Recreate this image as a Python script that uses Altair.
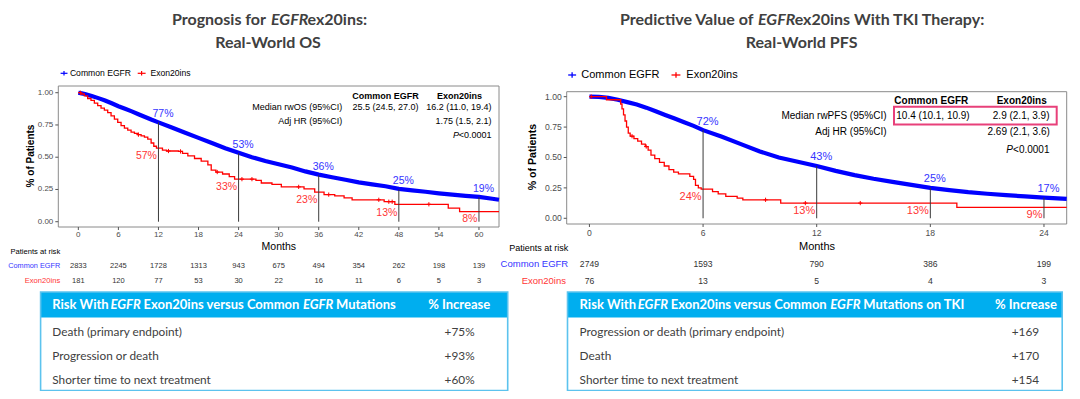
import altair as alt
import pandas as pd

# ---------------- data ----------------
# Left panel: real-world OS
os_blue_t = [0, 0.5, 1, 2, 3, 4, 5, 6, 7, 8, 9, 10, 11, 12, 14, 16, 18, 20, 22, 24, 26, 28, 30, 32, 34, 36, 38, 40, 42, 44, 46, 48, 50, 52, 54, 56, 58, 60, 62, 63]
os_blue_s = [1.0, 0.995, 0.99, 0.975, 0.958, 0.94, 0.918, 0.895, 0.875, 0.855, 0.833, 0.812, 0.79, 0.77, 0.73, 0.69, 0.65, 0.61, 0.57, 0.535, 0.50, 0.47, 0.445, 0.42, 0.39, 0.365, 0.345, 0.325, 0.305, 0.29, 0.275, 0.255, 0.243, 0.232, 0.22, 0.21, 0.20, 0.192, 0.178, 0.17]
os_red_t = [0, 0.4, 0.9, 1.4, 1.9, 2.4, 2.9, 3.4, 3.9, 4.4, 4.9, 5.4, 5.9, 6.4, 6.9, 7.4, 7.9, 8.4, 8.9, 9.4, 9.9, 10.4, 10.9, 11.3, 11.7, 12.6, 13.2, 15.0, 15.6, 16.4, 17.4, 18.4, 19.4, 19.9, 20.6, 21.6, 22.6, 23.4, 26.6, 27.4, 29.0, 30.4, 33.8, 35.4, 36.8, 38.4, 39.8, 41.0, 45.8, 47.4, 55.4, 57.1, 63]
os_red_s = [1.0, 0.99, 0.975, 0.955, 0.94, 0.92, 0.90, 0.88, 0.865, 0.845, 0.82, 0.795, 0.77, 0.745, 0.725, 0.71, 0.695, 0.685, 0.675, 0.665, 0.655, 0.64, 0.61, 0.585, 0.57, 0.555, 0.548, 0.545, 0.53, 0.51, 0.49, 0.47, 0.44, 0.40, 0.385, 0.37, 0.35, 0.33, 0.32, 0.30, 0.29, 0.27, 0.255, 0.23, 0.21, 0.20, 0.185, 0.17, 0.155, 0.135, 0.105, 0.078, 0.078]
os_cens_t = [0.3, 9.0, 13.5, 15.3, 20.8, 24.5, 26.0, 33.0, 37.5, 45.0, 46.5, 47.0, 52.5]
os_cens_s = [1.0, 0.675, 0.548, 0.545, 0.385, 0.33, 0.33, 0.27, 0.21, 0.17, 0.155, 0.155, 0.135]
os_mark_t = [12, 24, 36, 48, 60]
os_mark_blue = [0.77, 0.53, 0.36, 0.25, 0.19]
os_mark_red = [0.57, 0.33, 0.23, 0.13, 0.08]
os_lab_blue = ["77%", "53%", "36%", "25%", "19%"]
os_lab_red = ["57%", "33%", "23%", "13%", "8%"]
os_ticks_t = [0, 6, 12, 18, 24, 30, 36, 42, 48, 54, 60]
os_risk_common = [2833, 2245, 1728, 1313, 943, 675, 494, 354, 262, 198, 139]
os_risk_exon = [181, 120, 77, 53, 30, 22, 16, 11, 6, 5, 3]

# Right panel: real-world PFS on TKI
pfs_blue_t = [0, 0.5, 1, 1.5, 2, 2.5, 3, 3.5, 4, 4.5, 5, 5.5, 6, 7, 8, 9, 10, 11, 12, 13, 14, 15, 16, 17, 18, 19, 20, 21, 22, 23, 24, 25.2]
pfs_blue_s = [1.0, 0.998, 0.99, 0.975, 0.955, 0.935, 0.91, 0.88, 0.85, 0.82, 0.79, 0.76, 0.725, 0.67, 0.61, 0.55, 0.50, 0.465, 0.43, 0.39, 0.355, 0.325, 0.30, 0.275, 0.25, 0.232, 0.215, 0.202, 0.19, 0.18, 0.17, 0.16]
pfs_red_t = [0, 0.9, 1.65, 1.72, 1.8, 1.88, 1.96, 2.05, 2.15, 2.35, 2.55, 2.75, 2.95, 3.1, 3.25, 3.45, 3.7, 3.95, 4.2, 4.45, 4.7, 5.3, 5.5, 5.6, 5.75, 5.9, 6.5, 6.8, 7.2, 7.8, 8.1, 10.1, 19.4, 25.2]
pfs_red_s = [1.0, 0.975, 0.94, 0.90, 0.85, 0.80, 0.75, 0.70, 0.675, 0.655, 0.635, 0.61, 0.59, 0.56, 0.52, 0.49, 0.46, 0.43, 0.40, 0.38, 0.365, 0.345, 0.32, 0.27, 0.25, 0.24, 0.22, 0.20, 0.18, 0.165, 0.152, 0.125, 0.09, 0.09]
pfs_cens_t = [0.1, 2.25, 3.0, 9.3, 11.4, 14.3]
pfs_cens_s = [1.0, 0.675, 0.59, 0.152, 0.125, 0.125]
pfs_mark_t = [6, 12, 18, 24]
pfs_mark_blue = [0.725, 0.43, 0.25, 0.17]
pfs_mark_red = [0.24, 0.125, 0.125, 0.09]
pfs_lab_blue = ["72%", "43%", "25%", "17%"]
pfs_lab_red = ["24%", "13%", "13%", "9%"]
pfs_ticks_t = [0, 6, 12, 18, 24]
pfs_risk_common = [2749, 1593, 790, 386, 199]
pfs_risk_exon = [76, 13, 5, 4, 3]

y_ticks = [0.0, 0.25, 0.5, 0.75, 1.0]
y_tick_labels = ["0.00", "0.25", "0.50", "0.75", "1.00"]

os_table_rows = ["Death (primary endpoint)", "Progression or death", "Shorter time to next treatment"]
os_table_vals = ["+75%", "+93%", "+60%"]
pfs_table_rows = ["Progression or death (primary endpoint)", "Death", "Shorter time to next treatment"]
pfs_table_vals = ["+169", "+170", "+154"]

# ---------------- helpers ----------------
W, H = 1064, 383
OX, OY = 8, 8
def X(v): return v - OX
def Y(v): return v - OY

BLUE = "#0000ff"
RED = "#ff0000"
BLUE_T = "#3535ff"
RED_T = "#ff3535"
GREY = "#404040"
ARIAL = "Liberation Sans"
GOTH = "Lato"
ONE = pd.DataFrame({"k": [0]})


def txt(s, x, y, size=10, color="#000000", weight="normal", align="left",
        font=ARIAL, style="normal", angle=0, baseline="middle"):
    return alt.Chart(ONE).mark_text(
        text=s, fontSize=size, color=color, fontWeight=weight, align=align,
        font=font, fontStyle=style, angle=angle, baseline=baseline
    ).encode(x=alt.value(X(x)), y=alt.value(Y(y)))


def hline(x1, x2, y, color, width=1.0):
    return alt.Chart(ONE).mark_rule(color=color, strokeWidth=width).encode(
        x=alt.value(X(x1)), x2=alt.value(X(x2)), y=alt.value(Y(y)))


def vline(x, y1, y2, color, width=1.0):
    return alt.Chart(ONE).mark_rule(color=color, strokeWidth=width).encode(
        x=alt.value(X(x)), y=alt.value(Y(y1)), y2=alt.value(Y(y2)))


def box(x1, y1, x2, y2, fill=None, stroke=None, sw=1.0):
    kw = {}
    if fill is not None:
        kw["fill"] = fill
    else:
        kw["fillOpacity"] = 0
    if stroke is not None:
        kw["stroke"] = stroke
        kw["strokeWidth"] = sw
    return alt.Chart(ONE).mark_rect(**kw).encode(
        x=alt.value(X(x1)), x2=alt.value(X(x2)), y=alt.value(Y(y1)), y2=alt.value(Y(y2)))


def km_panel(p):
    xs = alt.Scale(domain=p["xdom"], range=[X(p["xpix"][0]), X(p["xpix"][1])], nice=False, zero=False)
    ys = alt.Scale(domain=p["ydom"], range=[Y(p["ypix"][0]), Y(p["ypix"][1])], nice=False, zero=False)

    def XE(f):
        return alt.X(f, type="quantitative", scale=xs, axis=None)

    def YE(f):
        return alt.Y(f, type="quantitative", scale=ys, axis=None)

    frame_df = pd.DataFrame({"x1": [p["xdom"][0]], "x2": [p["xdom"][1]],
                             "y1": [p["ydom"][0]], "y2": [p["ydom"][1]]})
    frame = alt.Chart(frame_df).mark_rect(fillOpacity=0, stroke="#8a8a8a", strokeWidth=1).encode(
        x=XE("x1"), x2="x2", y=YE("y1"), y2="y2")

    yt_df = pd.DataFrame({"y": y_ticks, "lab": y_tick_labels, "x": [p["xdom"][0]] * len(y_ticks)})
    ytick = alt.Chart(yt_df).mark_rule(color="#555555", x2Offset=-3).encode(
        x=XE("x"), x2="x", y=YE("y"))
    ylab = alt.Chart(yt_df).mark_text(align="right", baseline="middle", dx=-5, fontSize=p["tick_fs"],
                                       font=ARIAL, color="#4d4d4d").encode(x=XE("x"), y=YE("y"), text="lab:N")

    xt_df = pd.DataFrame({"t": p["ticks"], "y": [p["ydom"][0]] * len(p["ticks"]),
                          "lab": [str(v) for v in p["ticks"]]})
    xtick = alt.Chart(xt_df).mark_rule(color="#555555", y2Offset=3).encode(
        x=XE("t"), y=YE("y"), y2="y")
    xlab = alt.Chart(xt_df).mark_text(align="center", baseline="middle", dy=p["xlab_dy"], fontSize=p["tick_fs"],
                                       font=ARIAL, color="#4d4d4d").encode(x=XE("t"), y=YE("y"), text="lab:N")

    blue_df = pd.DataFrame({"t": p["blue_t"], "s": p["blue_s"]})
    blue = alt.Chart(blue_df).mark_line(color=BLUE, strokeWidth=4.2).encode(x=XE("t"), y=YE("s"))
    red_df = pd.DataFrame({"t": p["red_t"], "s": p["red_s"]})
    red = alt.Chart(red_df).mark_line(color=RED, strokeWidth=1.3, interpolate="step-after").encode(
        x=XE("t"), y=YE("s"))
    cens_df = pd.DataFrame({"t": p["cens_t"], "s": p["cens_s"]})
    cens = alt.Chart(cens_df).mark_point(shape="M0,-1V1M-1,0H1", size=18, color=RED, strokeWidth=1,
                                         filled=False, opacity=1).encode(x=XE("t"), y=YE("s"))

    mk_df = pd.DataFrame({"t": p["mark_t"], "b": p["mark_blue"], "r": p["mark_red"],
                          "lb": p["lab_blue"], "lr": p["lab_red"], "z": [0.0] * len(p["mark_t"])})
    marks = alt.Chart(mk_df).mark_rule(color="#3a3a3a", strokeWidth=1).encode(x=XE("t"), y=YE("z"), y2="b")
    lblue = alt.Chart(mk_df).mark_text(align="center", baseline="middle", dx=4.5, dy=-8.5,
                                        fontSize=p["lab_fs"], font=ARIAL, color=BLUE_T).encode(
        x=XE("t"), y=YE("b"), text="lb:N")
    lred = alt.Chart(mk_df).mark_text(align="right", baseline="middle", dx=-1.5, dy=8,
                                       fontSize=p["lab_fs"], font=ARIAL, color=RED_T).encode(
        x=XE("t"), y=YE("r"), text="lr:N")

    rk_df = pd.DataFrame({"t": p["ticks"], "c": [str(v) for v in p["risk_c"]],
                          "e": [str(v) for v in p["risk_e"]]})
    rk_c = alt.Chart(rk_df).mark_text(align="center", baseline="middle", fontSize=p["risk_fs"], font=ARIAL,
                                      color="#333333").encode(x=XE("t"), y=alt.value(Y(p["risk_y"][0])), text="c:N")
    rk_e = alt.Chart(rk_df).mark_text(align="center", baseline="middle", fontSize=p["risk_fs"], font=ARIAL,
                                      color="#333333").encode(x=XE("t"), y=alt.value(Y(p["risk_y"][1])), text="e:N")

    return alt.layer(frame, ytick, ylab, xtick, xlab, blue, red, cens, marks, lblue, lred, rk_c, rk_e)


left = dict(xdom=[-3, 63], xpix=[58.3, 499], ydom=[-0.041, 1.052], ypix=[227, 86],
            ticks=os_ticks_t, tick_fs=8, xlab_dy=8,
            blue_t=os_blue_t, blue_s=os_blue_s, red_t=os_red_t, red_s=os_red_s,
            cens_t=os_cens_t, cens_s=os_cens_s,
            mark_t=os_mark_t, mark_blue=os_mark_blue, mark_red=os_mark_red,
            lab_blue=os_lab_blue, lab_red=os_lab_red, lab_fs=10.5,
            risk_c=os_risk_common, risk_e=os_risk_exon, risk_fs=7.5, risk_y=[266.1, 281])
right = dict(xdom=[-1.2, 25.2], xpix=[566.7, 1066.7], ydom=[-0.047, 1.041], ypix=[224, 91.7],
             ticks=pfs_ticks_t, tick_fs=8.6, xlab_dy=8.7,
             blue_t=pfs_blue_t, blue_s=pfs_blue_s, red_t=pfs_red_t, red_s=pfs_red_s,
             cens_t=pfs_cens_t, cens_s=pfs_cens_s,
             mark_t=pfs_mark_t, mark_blue=pfs_mark_blue, mark_red=pfs_mark_red,
             lab_blue=pfs_lab_blue, lab_red=pfs_lab_red, lab_fs=11,
             risk_c=pfs_risk_common, risk_e=pfs_risk_exon, risk_fs=8.6, risk_y=[264.4, 280.6])

HDR_Y1, HDR_Y2, BOX_Y2 = 292, 317.5, 390.5
ROW_Y = [332, 356, 380]


def table(x1, x2, rows, vals, text_x, val_x, header_segs, inc_x):
    layers = [
        box(x1, HDR_Y1, x2, HDR_Y2, fill="#00aeef"),
        box(x1, HDR_Y1, x2, BOX_Y2, stroke="#5cc3ee", sw=1.6),
    ]
    hy = (HDR_Y1 + HDR_Y2) / 2
    for s, x, st in header_segs:
        layers.append(txt(s, x, hy, size=13, color="#ffffff", weight="bold", font=GOTH, style=st))
    layers.append(txt("% Increase", inc_x, hy, size=13, color="#ffffff", weight="bold", font=GOTH,
                      align="center"))
    df = pd.DataFrame({"row": [0, 1, 2], "lab": rows, "val": vals})
    ysc = alt.Scale(domain=[0, 2], range=[Y(ROW_Y[0]), Y(ROW_Y[2])], nice=False, zero=False)
    layers.append(alt.Chart(df).mark_text(align="left", baseline="middle", fontSize=11.8, font=GOTH,
                                          color=GREY).encode(
        x=alt.value(X(text_x)), y=alt.Y("row:Q", scale=ysc, axis=None), text="lab:N"))
    layers.append(alt.Chart(df).mark_text(align="center", baseline="middle", fontSize=11.8, font=GOTH,
                                          color=GREY).encode(
        x=alt.value(X(val_x)), y=alt.Y("row:Q", scale=ysc, axis=None), text="val:N"))
    return alt.layer(*layers)


layers = []
# titles
layers += [
    txt("Prognosis for", 266, 20, size=16, color=GREY, weight="bold", font=GOTH, align="right"),
    txt("EGFR", 271, 20, size=16, color=GREY, weight="bold", font=GOTH, style="italic"),
    txt("ex20ins:", 307.5, 20, size=16, color=GREY, weight="bold", font=GOTH),
    txt("Real-World OS", 268, 43, size=16, color=GREY, weight="bold", font=GOTH, align="center"),
    txt("Predictive Value of", 753.4, 20, size=16, color=GREY, weight="bold", font=GOTH, align="right"),
    txt("EGFR", 758, 20, size=16, color=GREY, weight="bold", font=GOTH, style="italic"),
    txt("ex20ins With TKI Therapy:", 794.7, 20, size=16, color=GREY, weight="bold", font=GOTH),
    txt("Real-World PFS", 801.6, 43, size=16, color=GREY, weight="bold", font=GOTH, align="center"),
]
# legends
layers += [
    hline(60.6, 67.5, 73.3, BLUE, 1.2), vline(64, 71, 75.6, BLUE, 1.2),
    txt("Common EGFR", 69.9, 73.3, size=8.6),
    hline(137.7, 145.6, 73.3, RED, 1.2), vline(141.6, 71, 75.6, RED, 1.2),
    txt("Exon20ins", 150.4, 73.3, size=8.6),
    hline(568.2, 576.1, 75, BLUE, 1.3), vline(572.1, 72.3, 77.7, BLUE, 1.3),
    txt("Common EGFR", 581.3, 75, size=11),
    hline(671.5, 680.4, 75, RED, 1.3), vline(676, 72.3, 77.7, RED, 1.3),
    txt("Exon20ins", 686.3, 75, size=11),
]
# panels
layers += [km_panel(left), km_panel(right)]
# axis titles & risk labels
layers += [
    txt("% of Patients", 31, 156, size=10, weight="bold", angle=270, align="center"),
    txt("% of Patients", 533, 157, size=10.6, weight="bold", angle=270, align="center"),
    txt("Months", 278.8, 247.2, size=10.5, align="center"),
    txt("Months", 817, 247.2, size=11, align="center"),
    txt("Patients at risk", 60.2, 252.4, size=7.6, align="right"),
    txt("Common EGFR", 60.2, 266.1, size=7.3, align="right", color=BLUE_T),
    txt("Exon20ins", 60.2, 281, size=7.6, align="right", color=RED_T),
    txt("Patients at risk", 568.2, 247.9, size=9, align="right"),
    txt("Common EGFR", 568.2, 264.4, size=9.5, align="right", color=BLUE_T),
    txt("Exon20ins", 566, 280.6, size=9.5, align="right", color=RED_T),
]
# stats boxes
layers += [
    txt("Common EGFR", 385.5, 95.5, size=9, weight="bold", align="center"),
    txt("Exon20ins", 459.5, 95.5, size=9, weight="bold", align="center"),
    txt("Median rwOS (95%CI)", 342.3, 107.3, size=9, align="right"),
    txt("25.5 (24.5, 27.0)", 385.5, 107.3, size=9, align="center"),
    txt("16.2 (11.0, 19.4)", 491.6, 107.3, size=9, align="right"),
    txt("Adj HR (95%CI)", 342.3, 120.6, size=9, align="right"),
    txt("1.75 (1.5, 2.1)", 491.6, 120.6, size=9, align="right"),
    txt("<0.0001", 491.6, 135, size=9, align="right"),
    txt("P", 459, 135, size=9, align="right", style="italic"),
    txt("Common EGFR", 931.3, 100.5, size=10, weight="bold", align="center"),
    txt("Exon20ins", 1021.7, 100.5, size=10, weight="bold", align="center"),
    txt("Median rwPFS (95%CI)", 886.5, 115.6, size=10, align="right"),
    txt("10.4 (10.1, 10.9)", 933, 115.6, size=10, align="center"),
    txt("2.9 (2.1, 3.9)", 1049.5, 115.6, size=10, align="right"),
    box(894, 106.7, 1056.7, 124.6, stroke="#e8407a", sw=2),
    txt("Adj HR (95%CI)", 886.5, 132, size=10, align="right"),
    txt("2.69 (2.1, 3.6)", 1049.8, 132, size=10, align="right"),
    txt("<0.0001", 1049.5, 149.5, size=10, align="right"),
    txt("P", 1013, 149.5, size=10, align="right", style="italic"),
]
# tables
layers.append(table(40.6, 507.7, os_table_rows, os_table_vals, 52.3, 459.6,
                    [("Risk With", 52.3, "normal"), ("EGFR", 110.5, "italic"),
                     ("Exon20ins versus Common", 143.5, "normal"), ("EGFR", 303, "italic"),
                     ("Mutations", 336, "normal")], 459.2))
layers.append(table(567.5, 1062.2, pfs_table_rows, pfs_table_vals, 579.6, 1025.4,
                    [("Risk With", 579.6, "normal"), ("EGFR", 637.8, "italic"),
                     ("Exon20ins versus Common", 670.8, "normal"), ("EGFR", 830.3, "italic"),
                     ("Mutations on TKI", 863.3, "normal")], 1026))

chart = alt.layer(*layers).resolve_scale(x="independent", y="independent").properties(
    width=W, height=H, autosize=alt.AutoSizeParams(type="none"), padding=0
).configure_view(stroke=None)

chart.save("out.html", embed_options={"renderer": "svg", "actions": False})
